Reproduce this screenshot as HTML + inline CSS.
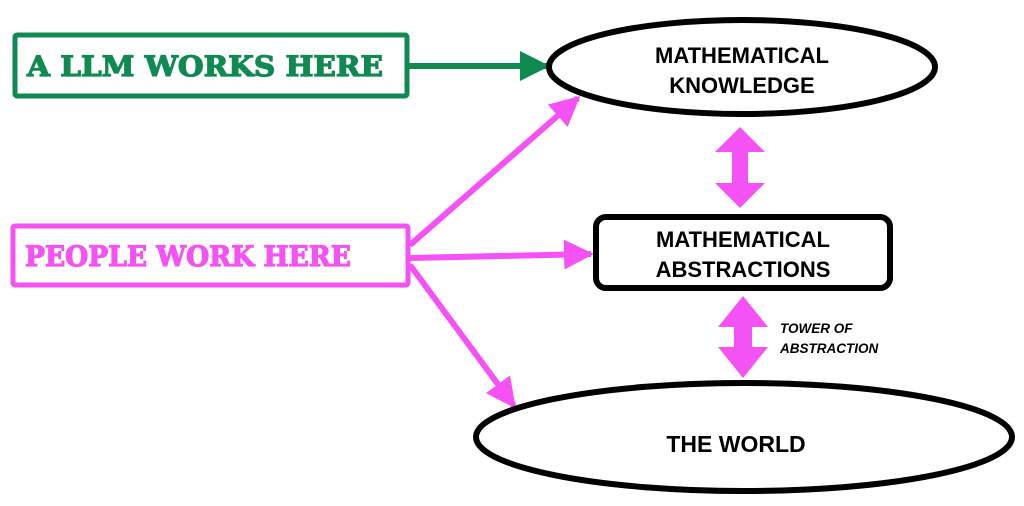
<!DOCTYPE html>
<html><head><style>
html,body{margin:0;padding:0;background:#fff;}
svg{display:block}
.h{font-family:"Liberation Sans",sans-serif;font-weight:bold;}
.s{font-family:"DejaVu Serif","Liberation Serif",serif;font-weight:bold;}
</style></head><body>
<svg width="1024" height="506" viewBox="0 0 1024 506">
<defs>
<marker id="ga" markerWidth="5" markerHeight="5" refX="4.5" refY="2.5" orient="auto" markerUnits="strokeWidth"><path d="M0,0 L5,2.5 L0,5 z" fill="#0f8a50"/></marker>
<marker id="pa" markerWidth="5" markerHeight="5" refX="4.5" refY="2.5" orient="auto" markerUnits="strokeWidth"><path d="M0,0 L5,2.5 L0,5 z" fill="#f552f5"/></marker>
</defs>
<rect x="15" y="35" width="392" height="61" rx="2" fill="none" stroke="#0f8a50" stroke-width="5"/>
<text x="27" y="76" class="s" font-size="28" fill="#0f8a50" stroke="#0f8a50" stroke-width="1.2" textLength="356" lengthAdjust="spacingAndGlyphs">A  LLM  WORKS HERE</text>
<line x1="408" y1="66" x2="547" y2="66" stroke="#0f8a50" stroke-width="6" marker-end="url(#ga)"/>
<rect x="13" y="226" width="395" height="59" rx="2" fill="none" stroke="#f552f5" stroke-width="5"/>
<text x="25" y="266" class="s" font-size="28" fill="#f552f5" stroke="#f552f5" stroke-width="1.2" textLength="326" lengthAdjust="spacingAndGlyphs">PEOPLE WORK HERE</text>
<line x1="410" y1="245" x2="578" y2="98" stroke="#f552f5" stroke-width="6" marker-end="url(#pa)"/>
<line x1="410" y1="258" x2="591" y2="254" stroke="#f552f5" stroke-width="6" marker-end="url(#pa)"/>
<line x1="410" y1="265" x2="514" y2="406" stroke="#f552f5" stroke-width="6" marker-end="url(#pa)"/>
<ellipse cx="742" cy="67" rx="193" ry="47" fill="#fff" stroke="#000" stroke-width="6"/>
<text x="742" y="63" class="h" font-size="22" text-anchor="middle">MATHEMATICAL</text>
<text x="742" y="93" class="h" font-size="22" text-anchor="middle">KNOWLEDGE</text>
<rect x="596" y="217" width="294" height="71" rx="10" fill="#fff" stroke="#000" stroke-width="6"/>
<text x="743" y="247" class="h" font-size="22" text-anchor="middle">MATHEMATICAL</text>
<text x="743" y="277" class="h" font-size="22" text-anchor="middle">ABSTRACTIONS</text>
<path d="M740,127 L765,152 L748,152 L748,183 L765,183 L740,208 L715,183 L732,183 L732,152 L715,152 z" fill="#f552f5"/>
<path d="M743,296 L768,327 L752,327 L752,347 L768,347 L743,378 L718,347 L734,347 L734,327 L718,327 z" fill="#f552f5"/>
<text x="780" y="333" class="h" font-size="13.5" font-style="italic">TOWER OF</text>
<text x="780" y="353" class="h" font-size="13.5" font-style="italic">ABSTRACTION</text>
<ellipse cx="744" cy="437" rx="268" ry="54" fill="#fff" stroke="#000" stroke-width="6"/>
<text x="736" y="452" class="h" font-size="23" text-anchor="middle">THE WORLD</text>
</svg>
</body></html>
